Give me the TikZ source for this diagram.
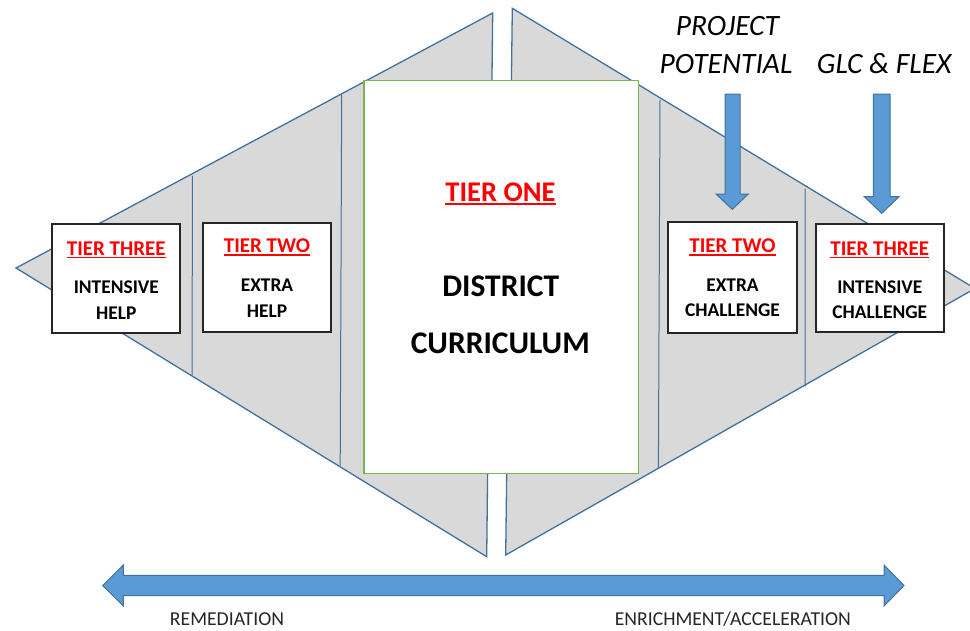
\documentclass[tikz,border=0pt]{standalone}
\usepackage{fontspec}
\setmainfont{Carlito}
\definecolor{trifill}{RGB}{217,217,217}
\definecolor{triline}{RGB}{65,113,156}
\definecolor{arrfill}{RGB}{91,155,213}
\definecolor{tgreen}{RGB}{122,182,80}
\definecolor{tred}{RGB}{255,0,0}
\newcommand\redul[1]{\sbox0{#1}\rlap{\usebox0}\rule[-3.2pt]{\wd0}{1.6pt}}
\tikzset{
  tri/.style={fill=trifill,draw=triline,line width=1.3pt,line join=miter},
  divider/.style={draw=triline,line width=1pt},
  tierbox/.style={fill=white,draw=black!85,line width=1.8pt},
  bigarrow/.style={fill=arrfill,draw=triline,line width=1pt,line join=miter},
  title/.style={anchor=base,inner sep=0pt,text=tred,font=\bfseries\fontsize{21}{23}\selectfont},
  body/.style={anchor=base,inner sep=0pt,text=black,font=\bfseries\fontsize{19.4}{21}\selectfont},
  big/.style={anchor=base,inner sep=0pt,text=black,font=\bfseries\fontsize{31.5}{33}\selectfont},
  toplabel/.style={anchor=base,inner sep=0pt,text=black,font=\itshape\fontsize{29.5}{31}\selectfont},
  axislabel/.style={anchor=base,inner sep=0pt,text=black!85,font=\fontsize{19.7}{21}\selectfont}
}
\begin{document}
\begin{tikzpicture}[x=1pt,y=-1pt]
\useasboundingbox (0,0) rectangle (970,630);
\begin{scope}
\clip (0,0) rectangle (970,630);
% triangles
\path[tri] (16,268) -- (492.7,13) -- (486.7,556.7) -- cycle;
\path[tri] (512.3,8.3) -- (975,288.5) -- (505.7,555) -- cycle;
% dividers
\path[divider] (192.5,175.5) -- (192,375);
\path[divider] (341.7,94.5) -- (340.2,465.5);
\path[divider] (660,100) -- (658.4,468.5);
\path[divider] (805.2,188.5) -- (805,386.5);
\end{scope}
% tier one box
\node[draw=tgreen,line width=1.4pt,fill=white,minimum width=274.3pt,minimum height=392.6pt,inner sep=0pt] (t1) at (501.2,277) {};
\node[title,font=\bfseries\fontsize{28.5}{30}\selectfont] (t1title) at (500.5,201.7) {\redul{TIER ONE}};
\node[big] (t1a) at (500.8,296.7) {DISTRICT};
\node[big] (t1b) at (500.3,353.3) {CURRICULUM};
% small boxes
\node[tierbox,minimum width=128pt,minimum height=109pt,inner sep=0pt] (b1) at (116.3,278.8) {};
\node[tierbox,minimum width=128pt,minimum height=109pt,inner sep=0pt] (b2) at (267,277.2) {};
\node[tierbox,minimum width=128.4pt,minimum height=111.6pt,inner sep=0pt] (b3) at (732.5,277.5) {};
\node[tierbox,minimum width=128.3pt,minimum height=108.3pt,inner sep=0pt] (b4) at (879.8,278.2) {};
\node[title] (b1t) at (116.3,255) {\redul{TIER THREE}};
\node[body] (b1a) at (116.3,293.3) {INTENSIVE};
\node[body] (b1b) at (116.3,319.3) {HELP};
\node[title] (b2t) at (267,252.7) {\redul{TIER TWO}};
\node[body] (b2a) at (267,291.7) {EXTRA};
\node[body] (b2b) at (267,317.7) {HELP};
\node[title] (b3t) at (732.5,252.3) {\redul{TIER TWO}};
\node[body] (b3a) at (732.5,291) {EXTRA};
\node[body] (b3b) at (732.5,316.7) {CHALLENGE};
\node[title] (b4t) at (879.8,255) {\redul{TIER THREE}};
\node[body] (b4a) at (879.8,293.3) {INTENSIVE};
\node[body] (b4b) at (879.8,318.3) {CHALLENGE};
% top labels
\node[toplabel] (pp1) at (727.5,35) {PROJECT};
\node[toplabel] (pp2) at (726,73.3) {POTENTIAL};
\node[toplabel] (glc) at (884.3,73.3) {GLC \& FLEX};
% down arrows
\path[bigarrow] (725,94) -- (740,94) -- (740,194) -- (748.3,194) -- (732.3,209.3) -- (716,194) -- (725,194) -- cycle;
\path[bigarrow] (873.3,94) -- (890,94) -- (890,196.7) -- (899,196.7) -- (881.7,213.3) -- (864.3,196.7) -- (873.3,196.7) -- cycle;
% horizontal double arrow
\path[bigarrow] (102.7,585.5) -- (123.3,565) -- (123.3,575.3) -- (884,575.3) -- (884,565) -- (904,585.5) -- (884,606) -- (884,595.7) -- (123.3,595.7) -- (123.3,606) -- cycle;
\node[axislabel] (rem) at (227,625) {REMEDIATION};
\node[axislabel] (enr) at (732.8,625) {ENRICHMENT/ACCELERATION};
\end{tikzpicture}
\end{document}
